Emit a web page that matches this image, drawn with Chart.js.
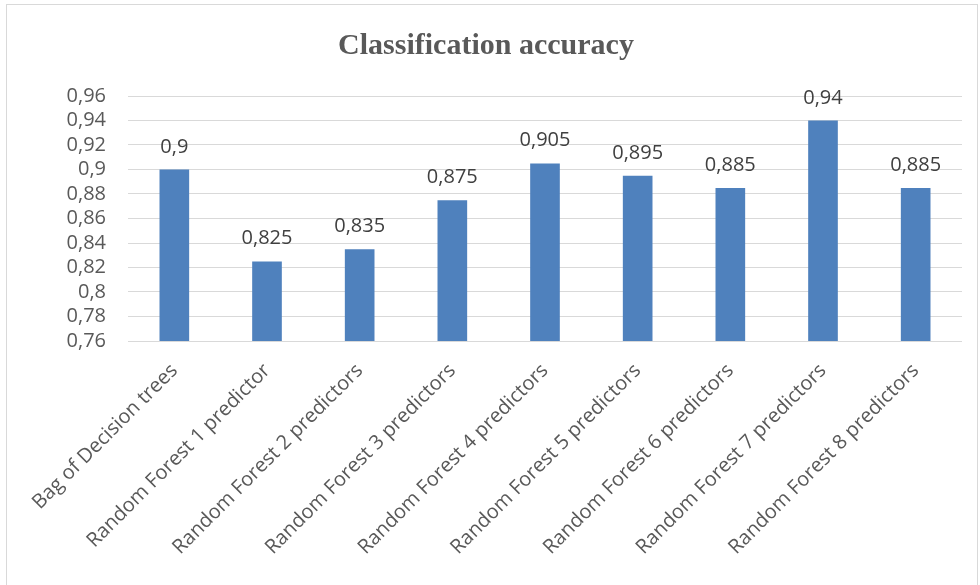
<!DOCTYPE html>
<html>
<head>
<meta charset="utf-8">
<script src="https://cdn.jsdelivr.net/npm/chart.js@4"></script>
<style>
  body { margin: 0; background: #fff; }
  #frame { position: absolute; left: 6px; top: 4px; width: 970px; height: 600px; border: 1px solid #d9d9d9; }
  #wrap { position: absolute; left: 0; top: 0; width: 980px; height: 585px; }
</style>
</head>
<body>
<div id="frame"></div>
<div id="wrap"><canvas id="myChart"></canvas></div>
<script>
const labels = ['Bag of Decision trees', 'Random Forest 1 predictor', 'Random Forest 2 predictors',
    'Random Forest 3 predictors', 'Random Forest 4 predictors', 'Random Forest 5 predictors',
    'Random Forest 6 predictors', 'Random Forest 7 predictors', 'Random Forest 8 predictors'];
const accuracy = [0.9, 0.825, 0.835, 0.875, 0.905, 0.895, 0.885, 0.94, 0.885];
const yTicks = [0.76, 0.78, 0.8, 0.82, 0.84, 0.86, 0.88, 0.9, 0.92, 0.94, 0.96];

const comma = v => String(+v.toFixed(3)).replace('.', ',');

// draws the value above each bar
const valueLabels = {
    id: 'valueLabels',
    afterDatasetsDraw(chart) {
        const c = chart.ctx;
        const meta = chart.getDatasetMeta(0);
        c.save();
        c.font = '20px "Open Sans"';
        c.fillStyle = '#404040';
        c.textAlign = 'center';
        c.textBaseline = 'alphabetic';
        meta.data.forEach((bar, i) => {
            c.fillText(comma(accuracy[i]), bar.x, bar.y - 17);
        });
        c.restore();
    }
};

const ctx = document.getElementById('myChart');

const myChart = new Chart(ctx, {
    type: 'bar',
    data: {
        labels: labels,
        datasets: [{
            label: 'Accuracy',
            data: accuracy,
            backgroundColor: '#4f81bd',
            barPercentage: 0.32,
            categoryPercentage: 1
        }]
    },
    options: {
        responsive: true,
        maintainAspectRatio: false,
        animation: false,
        layout: {
            padding: { left: 10, right: 18, top: 0, bottom: 20 }
        },
        scales: {
            x: {
                grid: { display: false },
                border: { display: false },
                ticks: {
                    color: '#595959',
                    font: { family: 'Open Sans', size: 20 },
                    minRotation: 45,
                    maxRotation: 45,
                    autoSkip: false,
                    padding: 10
                },
                afterFit: s => { s.height = 224; }
            },
            y: {
                min: 0.76,
                max: 0.96,
                afterBuildTicks: s => { s.ticks = yTicks.map(v => ({ value: v })); },
                grid: { color: '#d9d9d9', lineWidth: 1, drawTicks: false },
                border: { display: false },
                ticks: {
                    color: '#595959',
                    font: { family: 'Open Sans', size: 20 },
                    autoSkip: false,
                    padding: 22,
                    callback: v => comma(v)
                },
                afterFit: s => { s.width = 118; }
            }
        },
        plugins: {
            legend: { display: false },
            tooltip: { enabled: false },
            title: {
                display: true,
                text: 'Classification accuracy',
                color: '#595959',
                font: { family: 'Liberation Serif', size: 30, weight: 'bold' },
                padding: { top: 28, bottom: 32 }
            }
        }
    },
    plugins: [valueLabels]
});
</script>
</body>
</html>
